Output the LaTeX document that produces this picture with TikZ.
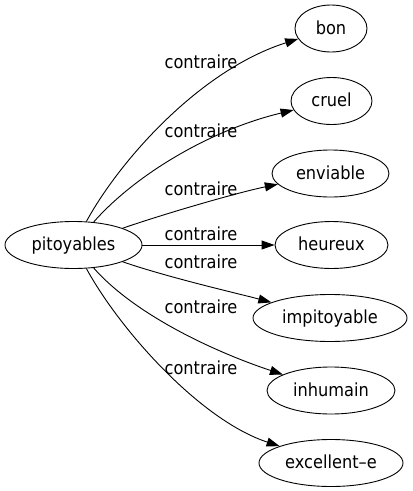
\documentclass[tikz,border=0pt]{standalone}
\usepackage{fontspec}
\setmainfont{DejaVu Sans}[FakeStretch=0.9]
\usetikzlibrary{arrows.meta,shapes.geometric}
\begin{document}
\begin{tikzpicture}[x=1pt,y=-1pt,
  every node/.style={font=\fontsize{18}{21}\selectfont, text height=13pt, text depth=1.6pt, inner sep=0pt},
  vert/.style={draw, ellipse, line width=0.9pt, minimum height=47pt},
  lab/.style={},
  edge/.style={line width=0.9pt, -{Triangle[length=13pt,width=9pt]}}]
\useasboundingbox (0,0) rectangle (413,491);
\node[vert, minimum width=137pt] (p) at (73.5,245) {pitoyables};
\node[vert, minimum width=72pt] (bon) at (331,28.5) {bon};
\node[vert, minimum width=81pt] (cruel) at (331.5,101) {cruel};
\node[vert, minimum width=117pt] (env) at (330.5,173.5) {enviable};
\node[vert, minimum width=113pt] (heu) at (331.5,245) {heureux};
\node[vert, minimum width=154pt] (imp) at (330,318) {impitoyable};
\node[vert, minimum width=128pt] (inh) at (331,390.5) {inhumain};
\node[vert, minimum width=144pt] (exc) at (331,463) {excellent–e};
\draw[edge] (p) .. controls (120,160) and (200,70) .. (bon);
\draw[edge] (p) .. controls (135,175) and (210,130) .. (cruel);
\draw[edge] (p) .. controls (170,212) and (240,192) .. (env);
\draw[edge] (p) -- (heu);
\draw[edge] (p) .. controls (170,278) and (240,294) .. (imp);
\draw[edge] (p) .. controls (135,315) and (215,352) .. (inh);
\draw[edge] (p) .. controls (120,330) and (200,420) .. (exc);
\node[lab] (l1) at (201,62.3) {contraire};
\node[lab] (l2) at (201,131.3) {contraire};
\node[lab] (l3) at (201,189.3) {contraire};
\node[lab] (l4) at (201,234.3) {contraire};
\node[lab] (l5) at (201,262.3) {contraire};
\node[lab] (l6) at (201,307.3) {contraire};
\node[lab] (l7) at (201,368.3) {contraire};
\end{tikzpicture}
\end{document}
